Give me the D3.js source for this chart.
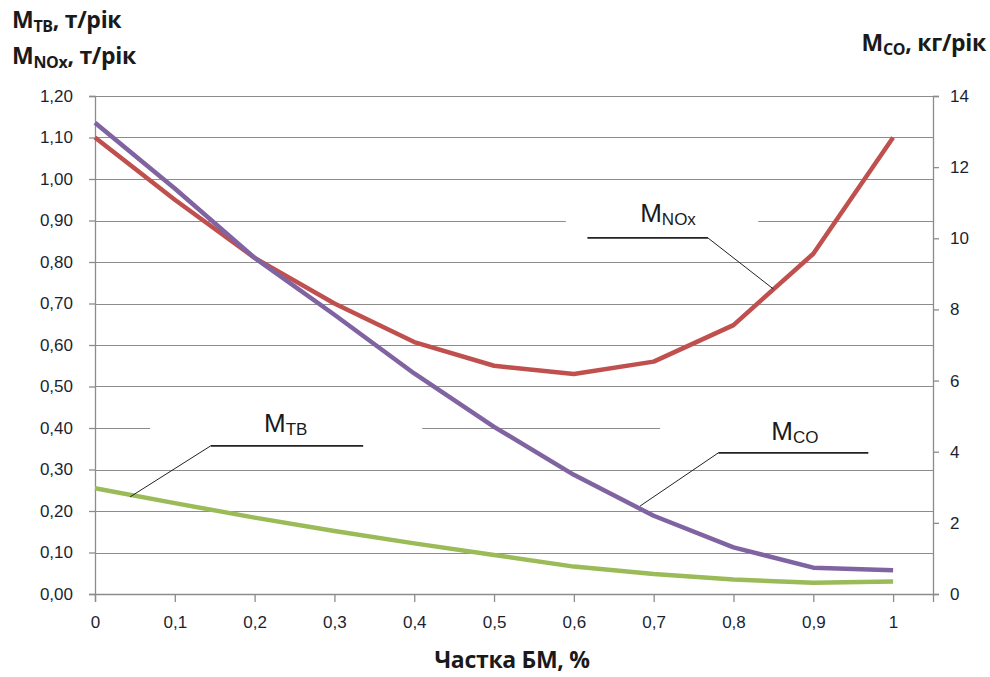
<!DOCTYPE html>
<html lang="uk">
<head>
  <meta charset="UTF-8">
  <title>Викиди залежно від частки БМ</title>
  <script src="https://cdnjs.cloudflare.com/ajax/libs/d3/7.8.5/d3.min.js"></script>
  <style>
    body { margin: 0; background: #fff; }
    svg { display: block; font-family: "Open Sans", sans-serif; }
    .grid { stroke: #8c8c8c; stroke-width: 1px; }
    .axis-line { stroke: #8c8c8c; stroke-width: 1.3px; }
    .tick-label { font-size: 17px; fill: #1b1f33; }
    .title { font-size: 23px; font-weight: bold; fill: #1a1a1a; letter-spacing: -0.3px; }
    .leader { stroke: #222; stroke-width: 1px; fill: none; }
    .leader-h { stroke: #222; stroke-width: 1.8px; }
    .note { font-family: "Liberation Sans", Arial, sans-serif; fill: #1a1a1a; }
  </style>
</head>
<body>
<div id="chart"></div>
<script>
// частка БМ
const share = [0, 0.1, 0.2, 0.3, 0.4, 0.5, 0.6, 0.7, 0.8, 0.9, 1];
// т/рік (ліва вісь)
const mNOx = [1.10, 0.95, 0.81, 0.70, 0.607, 0.55, 0.53, 0.56, 0.648, 0.82, 1.10];
const mTB  = [0.255, 0.219, 0.184, 0.152, 0.122, 0.094, 0.066, 0.048, 0.035, 0.027, 0.030];
// кг/рік (права вісь)
const mCO  = [13.25, 11.4, 9.45, 7.85, 6.2, 4.7, 3.35, 2.2, 1.31, 0.74, 0.67];

const leftTicks  = d3.range(0, 13).map(i => i / 10);
const rightTicks = [0, 2, 4, 6, 8, 10, 12, 14];
const xTicks     = share;

// підписи кривих: name, sub, x/y in data units (left axis)
const noteNames = ["M", "M", "M"];
const noteSubs  = ["NOx", "TB", "CO"];
const noteText  = [[0.718, 0.897], [0.239, 0.391], [0.877, 0.371]];
const noteBox   = [[0.590, 0.831, 0.937, 0.865], [0.069, 0.410, 0.443, 0.371], [0.708, 1.05, 0.431, 0.359]];
const noteElbow = [[0.768, 0.858], [0.145, 0.357], [0.781, 0.340]];
const noteEnd   = [0.617, 0.336, 0.969];
const noteAnchor = [[0.850, 0.735], [0.044, 0.234], [0.683, 0.212]];

const W = 990, H = 677;
const m = { left: 95, right: 57, top: 96, bottom: 83 };

const svg = d3.select("#chart").append("svg")
  .attr("width", W).attr("height", H);

const x = d3.scaleLinear().domain([0, 1.05]).range([m.left, W - m.right]);
const yL = d3.scaleLinear().domain([0, 1.2]).range([H - m.bottom, m.top]);
const yR = d3.scaleLinear().domain([0, 14]).range([H - m.bottom, m.top]);

// gridlines
svg.append("g").selectAll("line").data(leftTicks.filter(d => d > 0)).enter()
  .append("line").attr("class", "grid")
  .attr("x1", x(0)).attr("x2", x(1.05))
  .attr("y1", d => Math.round(yL(d)) + 0.5).attr("y2", d => Math.round(yL(d)) + 0.5);

// white boxes of labels cover the grid
svg.append("g").selectAll("rect").data(noteBox).enter()
  .append("rect").attr("fill", "#fff")
  .attr("x", d => x(d[0])).attr("width", d => x(d[1]) - x(d[0]))
  .attr("y", d => yL(d[2])).attr("height", d => yL(d[3]) - yL(d[2]));

// axes
const axL = svg.append("g").attr("transform", `translate(${x(0)},0)`)
  .call(d3.axisLeft(yL).tickValues(leftTicks).tickSize(6)
    .tickFormat(d => d3.format(".2f")(d).replace(".", ",")));
const axR = svg.append("g").attr("transform", `translate(${x(1.05)},0)`)
  .call(d3.axisRight(yR).tickValues(rightTicks).tickSize(6).tickFormat(d => d));
const axB = svg.append("g").attr("transform", `translate(0,${yL(0)})`)
  .call(d3.axisBottom(x).tickValues(xTicks).tickSize(8)
    .tickFormat(d => String(d).replace(".", ",")));

[axL, axR, axB].forEach(a => {
  a.select(".domain").attr("class", "axis-line");
  a.selectAll(".tick line").attr("stroke", "#8c8c8c").attr("stroke-width", 1.3);
  a.selectAll(".tick text").attr("class", "tick-label").attr("font-family", null).attr("font-size", null);
});
axL.selectAll(".tick text").attr("x", -22);
axR.selectAll(".tick text").attr("x", 17);
axB.selectAll(".tick text").attr("y", 22);

// lines
const lineL = d3.line().x((d, i) => x(share[i])).y(d => yL(d));
const lineR = d3.line().x((d, i) => x(share[i])).y(d => yR(d));

svg.append("path").datum(mTB).attr("d", lineL)
  .attr("fill", "none").attr("stroke", "#9BBB59").attr("stroke-width", 4.5).attr("stroke-linejoin", "round");
svg.append("path").datum(mNOx).attr("d", lineL)
  .attr("fill", "none").attr("stroke", "#C0504D").attr("stroke-width", 4.5).attr("stroke-linejoin", "round");
svg.append("path").datum(mCO).attr("d", lineR)
  .attr("fill", "none").attr("stroke", "#8064A2").attr("stroke-width", 4.5).attr("stroke-linejoin", "round");

// leader lines
noteElbow.forEach((e, i) => {
  svg.append("line").attr("class", "leader-h")
    .attr("x1", x(e[0])).attr("x2", x(noteEnd[i]))
    .attr("y1", yL(e[1])).attr("y2", yL(e[1]));
  svg.append("line").attr("class", "leader")
    .attr("x1", x(e[0])).attr("y1", yL(e[1]))
    .attr("x2", x(noteAnchor[i][0])).attr("y2", yL(noteAnchor[i][1]));
});

// labels of curves
noteText.forEach((p, i) => {
  const t = svg.append("text").attr("class", "note")
    .attr("x", x(p[0])).attr("y", yL(p[1])).attr("text-anchor", "middle");
  t.append("tspan").attr("font-size", 26).text(noteNames[i]);
  t.append("tspan").attr("font-size", 17).attr("dy", 3).text(noteSubs[i]);
});

// axis titles
function subTitle(xp, yp, sub, rest, anchor) {
  const t = svg.append("text").attr("class", "title")
    .attr("x", xp).attr("y", yp).attr("text-anchor", anchor || "start");
  t.append("tspan").text("M");
  t.append("tspan").attr("font-size", 16).attr("dy", 4).text(sub);
  t.append("tspan").attr("dy", -4).text(rest);
}
subTitle(12, 28, "ТВ", ", т/рік");
subTitle(12, 64, "NOx", ", т/рік");
subTitle(986, 51, "CO", ", кг/рік", "end");

svg.append("text").attr("class", "title")
  .attr("x", (x(0) + x(1)) / 2 + 18).attr("y", 668).attr("text-anchor", "middle")
  .text("Частка БМ, %");
</script>
</body>
</html>
